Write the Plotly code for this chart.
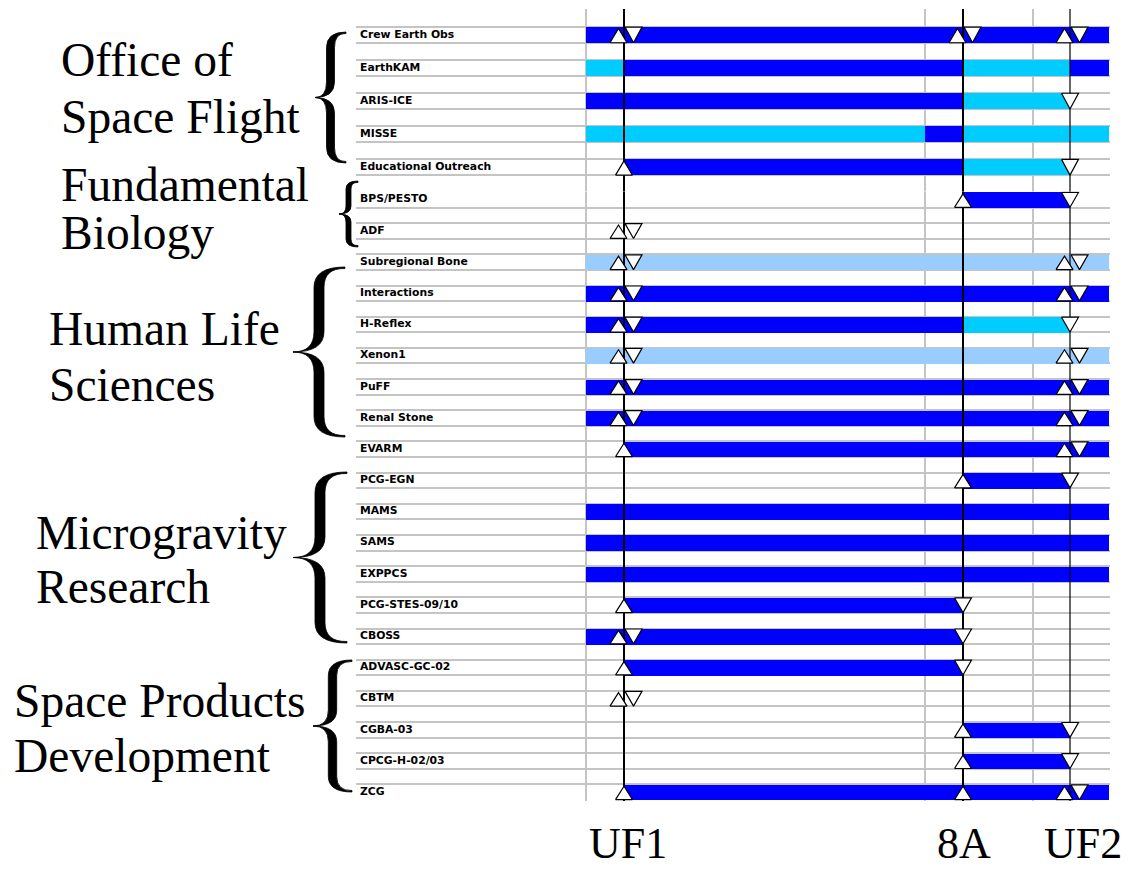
import plotly.graph_objects as go

# ---------------- data ----------------
osf_items = ["Crew Earth Obs", "EarthKAM", "ARIS-ICE", "MISSE", "Educational Outreach"]
other_items = ["BPS/PESTO", "ADF", "Subregional Bone", "Interactions", "H-Reflex", "Xenon1",
               "PuFF", "Renal Stone", "EVARM", "PCG-EGN", "MAMS", "SAMS", "EXPPCS",
               "PCG-STES-09/10", "CBOSS", "ADVASC-GC-02", "CBTM", "CGBA-03",
               "CPCG-H-02/03", "ZCG"]

milestone_names = ["UF1", "8A", "UF2"]
milestone_pos = [38, 377, 484]          # timeline units
timeline_start = 0
timeline_end = 523
interim_marks = [339, 447]

seg_item = ["Crew Earth Obs",
            "EarthKAM", "EarthKAM", "EarthKAM", "EarthKAM",
            "ARIS-ICE", "ARIS-ICE",
            "MISSE", "MISSE", "MISSE",
            "Educational Outreach", "Educational Outreach",
            "BPS/PESTO",
            "Subregional Bone", "Interactions",
            "H-Reflex", "H-Reflex",
            "Xenon1", "PuFF", "Renal Stone", "EVARM", "PCG-EGN",
            "MAMS", "SAMS", "EXPPCS",
            "PCG-STES-09/10", "CBOSS", "ADVASC-GC-02",
            "CGBA-03", "CPCG-H-02/03", "ZCG"]
seg_start = [0,
             0, 38, 377, 484,
             0, 377,
             0, 339, 377,
             38, 377,
             377,
             0, 0,
             0, 377,
             0, 0, 0, 38, 377,
             0, 0, 0,
             38, 0, 38,
             377, 377, 38]
seg_end = [523,
           38, 377, 484, 523,
           377, 484,
           339, 377, 523,
           377, 484,
           484,
           523, 523,
           377, 484,
           523, 523, 523, 523, 484,
           523, 523, 523,
           377, 377, 377,
           484, 484, 523]
seg_status = ["dark",
              "cyan", "dark", "cyan", "dark",
              "dark", "cyan",
              "cyan", "dark", "cyan",
              "dark", "cyan",
              "dark",
              "light", "dark",
              "dark", "cyan",
              "light", "dark", "dark", "dark", "dark",
              "dark", "dark", "dark",
              "dark", "dark", "dark",
              "dark", "dark", "dark"]

ev_item = ["Crew Earth Obs"] * 6 + \
          ["ARIS-ICE"] + \
          ["Educational Outreach"] * 2 + \
          ["BPS/PESTO"] * 2 + \
          ["ADF"] * 2 + \
          ["Subregional Bone"] * 4 + \
          ["Interactions"] * 4 + \
          ["H-Reflex"] * 3 + \
          ["Xenon1"] * 4 + \
          ["PuFF"] * 4 + \
          ["Renal Stone"] * 4 + \
          ["EVARM"] * 3 + \
          ["PCG-EGN"] * 2 + \
          ["PCG-STES-09/10"] * 2 + \
          ["CBOSS"] * 3 + \
          ["ADVASC-GC-02"] * 2 + \
          ["CBTM"] * 2 + \
          ["CGBA-03"] * 2 + \
          ["CPCG-H-02/03"] * 2 + \
          ["ZCG"] * 4
ev_milestone = ["UF1", "UF1", "8A", "8A", "UF2", "UF2",
                "UF2",
                "UF1", "UF2",
                "8A", "UF2",
                "UF1", "UF1",
                "UF1", "UF1", "UF2", "UF2",
                "UF1", "UF1", "UF2", "UF2",
                "UF1", "UF1", "UF2",
                "UF1", "UF1", "UF2", "UF2",
                "UF1", "UF1", "UF2", "UF2",
                "UF1", "UF1", "UF2", "UF2",
                "UF1", "UF2", "UF2",
                "8A", "UF2",
                "UF1", "8A",
                "UF1", "UF1", "8A",
                "UF1", "8A",
                "UF1", "UF1",
                "8A", "UF2",
                "8A", "UF2",
                "UF1", "8A", "UF2", "UF2"]
ev_dir = ["up", "down", "up", "down", "up", "down",
          "down",
          "up", "down",
          "up", "down",
          "up", "down",
          "up", "down", "up", "down",
          "up", "down", "up", "down",
          "up", "down", "down",
          "up", "down", "up", "down",
          "up", "down", "up", "down",
          "up", "down", "up", "down",
          "up", "up", "down",
          "up", "down",
          "up", "down",
          "up", "down", "down",
          "up", "down",
          "up", "down",
          "up", "down",
          "up", "down",
          "up", "up", "up", "down"]

group_lines = [["Office of", "Space Flight"], ["Fundamental", "Biology"],
               ["Human Life", "Sciences"], ["Microgravity", "Research"],
               ["Space Products", "Development"]]

# ---------------- layout / style ----------------
W, H = 1130, 869
status_colors = {"dark": "#0000FF", "cyan": "#00CCFF", "light": "#99CCFF"}
GRID = "#C4C4C4"
ORIGIN_PX = 586          # pixel of timeline_start
LEFT_PX, RIGHT_PX = 357, 1109
TOP_PX, SPLIT_PX, BOT_PX = 10, 192, 800

x_range = [LEFT_PX - ORIGIN_PX - 1, RIGHT_PX - ORIGIN_PX + 1]
x_domain = [(ORIGIN_PX + x_range[0]) / W, (ORIGIN_PX + x_range[1]) / W]

n_top_half = 2 * len(osf_items) + 1
n_bot_half = 2 * len(other_items) - 1
u_top = (SPLIT_PX - TOP_PX) / n_top_half
u_bot = (BOT_PX - SPLIT_PX) / n_bot_half
top_range = [n_top_half, -0.06]
bot_range = [n_bot_half + 0.06, -0.03]
top_domain = [1 - SPLIT_PX / H, 1 - (TOP_PX - 0.06 * u_top) / H]
bot_domain = [1 - (BOT_PX + 0.06 * u_bot) / H, 1 - (SPLIT_PX - 0.03 * u_bot) / H]


def row_of(name):
    """return (yaxis id, top-of-row value) for an item"""
    if name in osf_items:
        return "y", 1 + 2 * osf_items.index(name)
    return "y2", 2 * other_items.index(name)


mpos = dict(zip(milestone_names, milestone_pos))
fig = go.Figure()

# bars
for ax in ["y", "y2"]:
    for status, col in status_colors.items():
        xs, bases, ys = [], [], []
        for it, s, e, st in zip(seg_item, seg_start, seg_end, seg_status):
            a, r0 = row_of(it)
            if a == ax and st == status:
                bases.append(s)
                xs.append(e - s)
                ys.append(r0 + 0.5)
        if xs:
            fig.add_trace(go.Bar(orientation="h", base=bases, x=xs, y=ys, width=1,
                                 marker=dict(color=col, line=dict(width=0)),
                                 xaxis="x", yaxis=ax, hoverinfo="skip"))

# milestone vertical lines
line_w = {"UF1": 2, "8A": 2, "UF2": 1.2}
for ax, rng in [("y", top_range), ("y2", bot_range)]:
    for name, p in zip(milestone_names, milestone_pos):
        fig.add_trace(go.Scatter(x=[p, p], y=[min(rng), max(rng)], mode="lines",
                                 line=dict(color="black", width=line_w[name]),
                                 xaxis="x", yaxis=ax, hoverinfo="skip"))

# triangles
pairs = set()
for it, m, d in zip(ev_item, ev_milestone, ev_dir):
    pairs.add((it, m, d))
half_w = 8.5
for ax in ["y", "y2"]:
    tx, ty = [], []
    for it, m, d in zip(ev_item, ev_milestone, ev_dir):
        a, r0 = row_of(it)
        if a != ax:
            continue
        both = (it, m, "up") in pairs and (it, m, "down") in pairs
        cx = mpos[m]
        if both:
            cx += -5.5 if d == "up" else 9.5
        if d == "up":
            tx += [cx - half_w, cx + half_w, cx, cx - half_w, None]
            ty += [r0 + 0.98, r0 + 0.98, r0 + 0.12, r0 + 0.98, None]
        else:
            tx += [cx - half_w, cx + half_w, cx, cx - half_w, None]
            ty += [r0 + 0.03, r0 + 0.03, r0 + 0.98, r0 + 0.03, None]
    fig.add_trace(go.Scatter(x=tx, y=ty, mode="lines", fill="toself", fillcolor="white",
                             line=dict(color="black", width=1.2),
                             xaxis="x", yaxis=ax, hoverinfo="skip"))

# item labels
for ax, items in [("y", osf_items), ("y2", other_items)]:
    ys = [row_of(it)[1] + 0.5 for it in items]
    fig.add_trace(go.Scatter(x=[x_range[0] + 4] * len(items), y=ys, text=items,
                             mode="text", textposition="middle right",
                             textfont=dict(family="DejaVu Sans", size=10.8, color="black",
                                           weight="bold"),
                             xaxis="x", yaxis=ax, hoverinfo="skip"))

# group labels (left) — pixel positions of each text line
group_pos = [[(59, 60), (59, 117)], [(59, 185), (59, 233)], [(47, 329), (47, 385)],
             [(34, 533), (34, 587)], [(12, 701), (12, 756)]]
annotations = []
for lines, poss in zip(group_lines, group_pos):
    for txt, (px, py) in zip(lines, poss):
        annotations.append(dict(text=txt, x=px / W, y=1 - py / H, xref="paper", yref="paper",
                                xanchor="left", yanchor="middle", showarrow=False,
                                font=dict(family="Liberation Serif", size=47.5, color="black")))

# milestone labels at bottom
label_shift = {"UF1": 4, "8A": 1, "UF2": 13}
for name, p in zip(milestone_names, milestone_pos):
    annotations.append(dict(text=name, x=p, y=1 - 843 / H, xref="x", yref="paper",
                            xanchor="center", yanchor="middle", xshift=label_shift[name],
                            showarrow=False, borderpad=0,
                            font=dict(family="Liberation Serif", size=44, color="black")))


# braces
def P(px, py):
    return f"{px / W:.5f},{1 - py / H:.5f}"


def brace(xl, xr, y0, y1, t):
    ym = (y0 + y1) / 2
    a = 0.24 * (y1 - y0) / 2
    xs = (xl + xr) / 2
    o, i = xs - t, xs + t
    return ("M" + P(xr, y0) +
            " Q" + P(o, y0) + " " + P(o, y0 + a) +
            " L" + P(o, ym - a) +
            " Q" + P(o, ym) + " " + P(xl, ym) +
            " Q" + P(o, ym) + " " + P(o, ym + a) +
            " L" + P(o, y1 - a) +
            " Q" + P(o, y1) + " " + P(xr, y1) +
            " L" + P(xr, y1 - 1.5) +
            " Q" + P(i, y1 - 1) + " " + P(i, y1 - a) +
            " L" + P(i, ym + a) +
            " Q" + P(i, ym) + " " + P(xl, ym) +
            " Q" + P(i, ym) + " " + P(i, ym - a) +
            " L" + P(i, y0 + a) +
            " Q" + P(i, y0 + 1) + " " + P(xr, y0 + 1.5) + " Z")


brace_specs = [(315, 346, 32, 163, 4), (339, 358, 181, 247, 2.5), (293, 345, 267, 437, 5),
               (293, 347, 472, 643, 5), (313, 352, 660, 792, 4.2)]
shapes = [dict(type="path", path=brace(*b), xref="paper", yref="paper",
               fillcolor="black", line=dict(color="black", width=0.8)) for b in brace_specs]

axis_common = dict(showticklabels=False, ticks="", zeroline=False, showline=False,
                   fixedrange=True)
fig.update_layout(
    width=W, height=H, margin=dict(l=0, r=0, t=0, b=0),
    paper_bgcolor="white", plot_bgcolor="white", showlegend=False,
    barmode="overlay", bargap=0,
    xaxis=dict(range=x_range, domain=x_domain, anchor="y2", tickmode="array",
               tickvals=[x_range[0] + 1, timeline_start] + interim_marks + [x_range[1] - 1],
               showgrid=True, gridcolor=GRID, gridwidth=2, **axis_common),
    yaxis=dict(range=top_range, domain=top_domain, anchor="x", tick0=0, dtick=1,
               showgrid=True, gridcolor=GRID, gridwidth=2, **axis_common),
    yaxis2=dict(range=bot_range, domain=bot_domain, anchor="x", tick0=0, dtick=1,
                showgrid=True, gridcolor=GRID, gridwidth=2, **axis_common),
    annotations=annotations, shapes=shapes,
)

fig.write_html("out.html", config={"displayModeBar": False},
               post_script="document.body.style.margin='0';")
